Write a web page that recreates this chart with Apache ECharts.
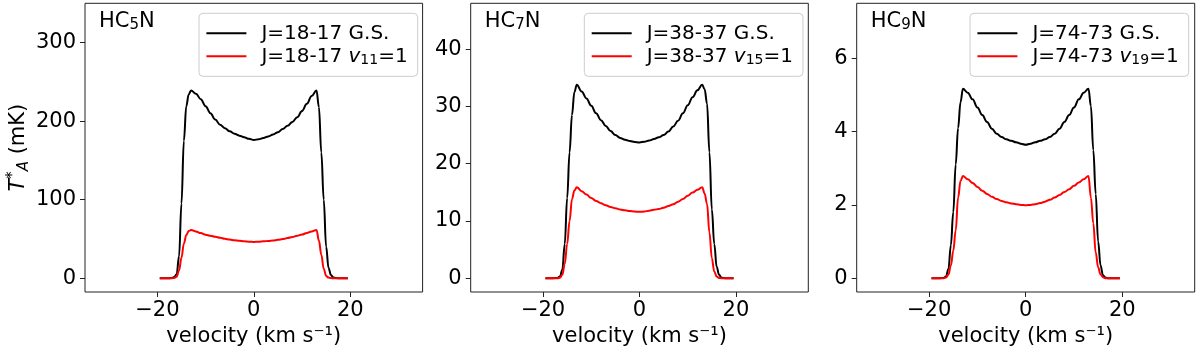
<!DOCTYPE html>
<html>
<head>
<meta charset="utf-8">
<script src="https://cdn.jsdelivr.net/npm/echarts@6/dist/echarts.min.js"></script>
<style>
html,body{margin:0;padding:0;background:#fff;}
#chart{width:1200px;height:352px;}
</style>
</head>
<body>
<div id="chart"></div>
<script>
// ---- data ----
const vel = [-19.5,-18,-17,-16.5,-16,-15.5,-15,-14.5,-14,-13.5,
  -13,-12,-11,-10,-9,-8,-7,-6,-5,-4,-3,-2,-1,0,1,2,3,4,5,6,7,8,9,10,11,12,13,
  13.5,14,14.5,15,15.5,16,16.5,17,18,19.5];

const hc5_gs = [0,0,0.3,1.5,5,28,95,175,219,234,
  239,235,228,219,210,202,195.5,191,187,184,181.5,179.5,177.5,176,177,178.5,180.5,183,186,190,194,199,205,213,222,232,239,
  218,160,100,40,13,4,1,0.2,0,0];
const hc5_v = [0,0,0,0.3,2,10,26,44,55,60,
  61.5,59.5,57.5,55.5,54,52.8,51.5,50.3,49.2,48.3,47.6,47,46.6,46.3,46.5,47,47.5,48.1,48.9,49.9,51.1,52.5,54,55.7,57.6,59.6,61.5,
  48,30,12,3,0.8,0.2,0,0,0,0];
const hc7_gs = [0,0,0.05,0.3,1.5,6,14,22,28.5,32.5,
  33.8,32.6,31.4,30.1,28.8,27.6,26.6,25.7,25.0,24.5,24.2,23.95,23.8,23.7,23.85,24.05,24.3,24.6,25.0,25.6,26.5,27.5,28.8,30.2,31.6,32.8,33.8,
  33,30.5,22,12,6,2,0.6,0.1,0,0];
const hc7_v = [0,0,0,0.1,0.6,2.5,6,10,13.8,15.3,
  15.9,15.2,14.6,14.0,13.5,13.1,12.75,12.45,12.2,12.0,11.85,11.75,11.65,11.6,11.65,11.8,11.95,12.1,12.3,12.6,12.9,13.35,13.85,14.4,14.95,15.45,15.9,
  14.8,13,8,3.5,1.2,0.3,0.05,0,0,0];
const hc9_gs = [0,0,0.01,0.05,0.25,0.9,1.8,3.1,4.1,4.8,
  5.17,5.06,4.88,4.66,4.45,4.26,4.08,3.94,3.85,3.79,3.75,3.71,3.67,3.64,3.67,3.71,3.75,3.79,3.85,3.94,4.08,4.26,4.45,4.66,4.88,5.06,5.17,
  4.7,3.5,2.3,1.0,0.35,0.08,0.02,0,0,0];
const hc9_v = [0,0,0,0.02,0.1,0.35,0.75,1.3,2.2,2.65,
  2.79,2.7,2.6,2.49,2.39,2.3,2.22,2.16,2.11,2.07,2.04,2.02,2.0,1.99,2.0,2.02,2.05,2.09,2.14,2.2,2.27,2.35,2.43,2.52,2.61,2.7,2.79,
  2.2,1.5,0.7,0.3,0.1,0.03,0,0,0,0];

const molecules = [['HC','5','N'],['HC','7','N'],['HC','9','N']];
const gsLabels = ['J=18-17 G.S.','J=38-37 G.S.','J=74-73 G.S.'];
const vibPrefix = ['J=18-17 ','J=38-37 ','J=74-73 '];
const vibSub = ['11','15','19'];
const vibLabels = vibPrefix.map((p,i)=>p+'v'+vibSub[i]+'=1');
const xTicks = [-20,0,20];
const yTicks = [[0,100,200,300],[0,10,20,30,40],[0,2,4,6]];
const yRanges = [[-17.5,350],[-2.4,48],[-0.375,7.5]];
const xRange = [-35,35];
const gsSeries = [hc5_gs,hc7_gs,hc9_gs];
const vibSeries = [hc5_v,hc7_v,hc9_v];

// ---- layout ----
const FONT = 'DejaVu Sans';
const FS = 20, TFS = 21;
const gridLefts = [85,470.7,856.7];
const gridW = [337.6,337.6,338];
const gridTop = 3.3, gridH = 288.7;
const legendLefts = [199,584.3,970];

const pair = (ys)=>vel.map((v,i)=>[v,ys[i]]);
const fmtMinus = v => String(v).replace('-', '\u2212');

const grids=[], xAxes=[], yAxes=[], series=[], legends=[], titles=[];
for (let k=0;k<3;k++){
  grids.push({left:gridLefts[k], top:gridTop, width:gridW[k], height:gridH,
    show:true, borderColor:'#222', borderWidth:1, backgroundColor:'transparent'});
  xAxes.push({type:'value', gridIndex:k, min:xRange[0], max:xRange[1], position:'bottom',
    axisLine:{show:false, onZero:false}, splitLine:{show:false},
    axisTick:{show:true, inside:false, length:5, lineStyle:{color:'#222',width:1}, customValues:xTicks},
    axisLabel:{color:'#000', fontFamily:FONT, fontSize:TFS, margin:8, customValues:xTicks, formatter:fmtMinus},
    name:'velocity (km s\u207B\u00B9)', nameLocation:'middle', nameGap:32,
    nameTextStyle:{color:'#000', fontFamily:FONT, fontSize:TFS}});
  const y = {type:'value', gridIndex:k, min:yRanges[k][0], max:yRanges[k][1], position:'left',
    axisLine:{show:false, onZero:false}, splitLine:{show:false},
    axisTick:{show:true, inside:false, length:5, lineStyle:{color:'#222',width:1}, customValues:yTicks[k]},
    axisLabel:{color:'#000', fontFamily:FONT, fontSize:TFS, margin:9, customValues:yTicks[k], formatter:fmtMinus}};
  if (k===0){
    y.name='{i|T}{sup|*}{sub|A}{n| (mK)}';
    y.nameLocation='middle'; y.nameGap=53;
    y.nameTextStyle={color:'#000', fontFamily:FONT, fontSize:TFS, rich:{
      i:{fontFamily:FONT, fontSize:TFS, fontStyle:'italic', color:'#000', lineHeight:26},
      sup:{fontFamily:FONT, fontSize:15, color:'#000', verticalAlign:'top', lineHeight:14},
      sub:{fontFamily:FONT, fontSize:15, fontStyle:'italic', color:'#000', verticalAlign:'bottom', lineHeight:12},
      n:{fontFamily:FONT, fontSize:TFS, color:'#000', lineHeight:26}}};
  }
  yAxes.push(y);
  series.push({type:'line', name:gsLabels[k], xAxisIndex:k, yAxisIndex:k, data:pair(gsSeries[k]),
    showSymbol:false, symbol:'none', smooth:0.4, smoothMonotone:'x',
    lineStyle:{color:'#000', width:2}, itemStyle:{color:'#000'}, z:2});
  series.push({type:'line', name:vibLabels[k], xAxisIndex:k, yAxisIndex:k, data:pair(vibSeries[k]),
    showSymbol:false, symbol:'none', smooth:0.4, smoothMonotone:'x',
    lineStyle:{color:'#ff0000', width:2}, itemStyle:{color:'#ff0000'}, z:3});
  legends.push({data:[gsLabels[k], vibLabels[k]], left:legendLefts[k], top:13.3, orient:'vertical',
    icon:'rect', itemWidth:40, itemHeight:2, itemGap:3,
    padding:[10,10,9,7.4], backgroundColor:'rgba(255,255,255,0.8)', borderColor:'#cccccc', borderWidth:1, borderRadius:4,
    selectedMode:false,
    formatter:(name)=>{const j=vibLabels.indexOf(name); if(j<0) return '{r|'+name+'}';
      return '{r|'+vibPrefix[j]+'}{i|v}{s|'+vibSub[j]+'}{r|=1}';},
    textStyle:{color:'#000', fontFamily:FONT, fontSize:FS, padding:[0,0,0,10], rich:{
      r:{fontFamily:FONT, fontSize:FS, color:'#000', lineHeight:22},
      i:{fontFamily:FONT, fontSize:FS, fontStyle:'italic', color:'#000', lineHeight:22},
      s:{fontFamily:FONT, fontSize:14, color:'#000', verticalAlign:'bottom', lineHeight:13}}}});
  titles.push({text:'{a|'+molecules[k][0]+'}{s|'+molecules[k][1]+'}{a|'+molecules[k][2]+'}',
    left:gridLefts[k]+14, top:11, padding:0,
    textStyle:{fontWeight:'normal', rich:{
      a:{fontFamily:FONT, fontSize:TFS, fontWeight:'normal', color:'#000', lineHeight:22},
      s:{fontFamily:FONT, fontSize:15, fontWeight:'normal', color:'#000', verticalAlign:'bottom', lineHeight:13}}}});
}

const chart = echarts.init(document.getElementById('chart'), null, {renderer:'canvas'});
chart.setOption({animation:false, backgroundColor:'#fff',
  title:titles, grid:grids, xAxis:xAxes, yAxis:yAxes, legend:legends, series:series});
</script>
</body>
</html>
